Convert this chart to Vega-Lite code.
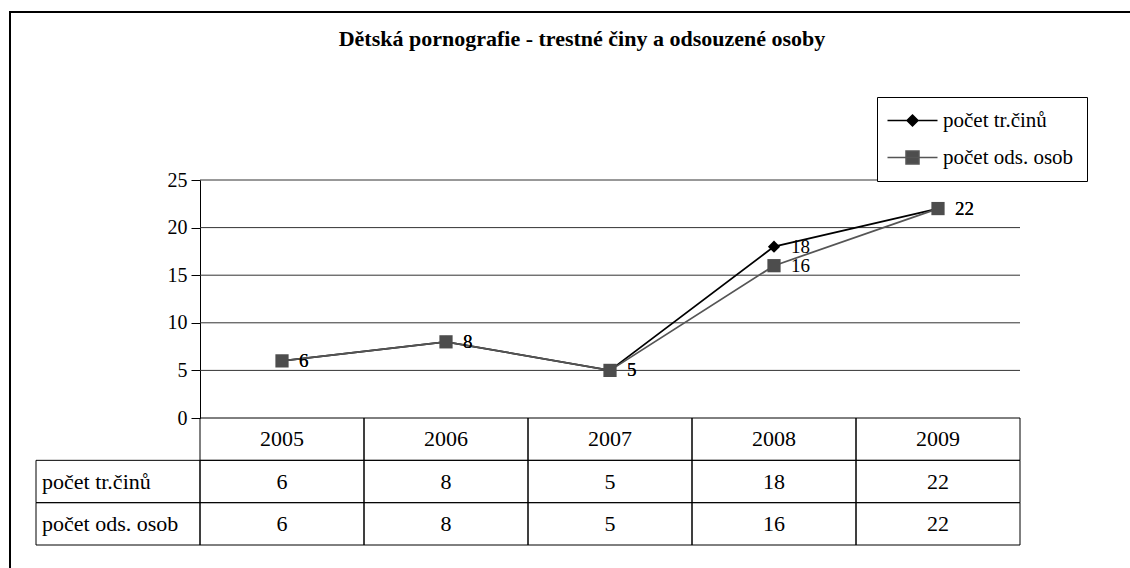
{
  "$schema": "https://vega.github.io/schema/vega-lite/v6.json",
  "width": 1120,
  "height": 556,
  "autosize": {"type": "none"},
  "padding": {"left": 10, "top": 12, "right": 0, "bottom": 0},
  "background": "white",
  "config": {
    "view": {"stroke": "black", "strokeWidth": 2, "strokeDash": [1120, 1676, 556, 4]},
    "font": "Liberation Serif"
  },
  "title": {
    "text": "Dětská pornografie - trestné činy a odsouzené osoby",
    "font": "Liberation Serif",
    "fontSize": 22,
    "fontWeight": "bold",
    "color": "black",
    "anchor": "middle",
    "baseline": "middle",
    "offset": -49,
    "dx": 12
  },
  "data": {
    "values": [
      {"year": "2005", "series": "počet tr.činů", "value": 6},
      {"year": "2006", "series": "počet tr.činů", "value": 8},
      {"year": "2007", "series": "počet tr.činů", "value": 5},
      {"year": "2008", "series": "počet tr.činů", "value": 18},
      {"year": "2009", "series": "počet tr.činů", "value": 22},
      {"year": "2005", "series": "počet ods. osob", "value": 6},
      {"year": "2006", "series": "počet ods. osob", "value": 8},
      {"year": "2007", "series": "počet ods. osob", "value": 5},
      {"year": "2008", "series": "počet ods. osob", "value": 16},
      {"year": "2009", "series": "počet ods. osob", "value": 22}
    ]
  },
  "resolve": {"scale": {"y": "independent"}},
  "layer": [
    {
      "layer": [
        {
          "data": {"values": [{"level": 5}, {"level": 10}, {"level": 15}, {"level": 20}, {"level": 25}]},
          "mark": {"type": "rule", "color": "#333333", "strokeWidth": 1},
          "encoding": {
            "x": {"datum": "2005", "type": "ordinal", "bandPosition": 0, "scale": {"type": "band", "domain": ["lbl", "2005", "2006", "2007", "2008", "2009"], "range": [26, 1010], "paddingInner": 0, "paddingOuter": 0}, "axis": null},
            "x2": {"datum": "2009", "bandPosition": 1},
            "y": {
              "field": "level", "type": "quantitative",
              "scale": {"domain": [0, 25], "range": [406, 168], "nice": false, "zero": false},
              "axis": {
                "values": [0, 5, 10, 15, 20, 25], "offset": -190, "title": null,
                "domain": true, "domainColor": "black", "domainWidth": 1,
                "ticks": true, "tickSize": 9, "tickColor": "black", "grid": false,
                "labelFont": "Liberation Serif", "labelFontSize": 20, "labelColor": "black", "labelPadding": 4
              }
            }
          }
        },
        {
          "mark": {"type": "line", "strokeWidth": 1.75},
          "encoding": {
            "x": {"field": "year", "type": "ordinal", "scale": {"type": "band", "domain": ["lbl", "2005", "2006", "2007", "2008", "2009"], "range": [26, 1010], "paddingInner": 0, "paddingOuter": 0}, "axis": null},
            "y": {"field": "value", "type": "quantitative", "scale": {"domain": [0, 25], "range": [406, 168], "nice": false, "zero": false}},
            "color": {
              "field": "series", "type": "nominal",
              "scale": {"domain": ["počet tr.činů", "počet ods. osob"], "range": ["#000000", "#555555"]},
              "legend": {
                "title": null, "orient": "none", "legendX": 867, "legendY": 85,
                "strokeColor": "black", "fillColor": "white", "padding": 13,
                "labelFont": "Liberation Serif", "labelFontSize": 21, "labelColor": "black",
                "rowPadding": 15, "symbolSize": 100, "symbolOffset": 12, "labelOffset": 20,
                "symbolStrokeWidth": 1.5
              }
            }
          }
        },
        {
          "transform": [{"filter": "false"}],
          "mark": {"type": "point", "filled": false, "strokeWidth": 1.5, "opacity": 1},
          "encoding": {
            "x": {"field": "year", "type": "ordinal", "scale": {"type": "band", "domain": ["lbl", "2005", "2006", "2007", "2008", "2009"], "range": [26, 1010], "paddingInner": 0, "paddingOuter": 0}, "axis": null},
            "y": {"field": "value", "type": "quantitative", "scale": {"domain": [0, 25], "range": [406, 168], "nice": false, "zero": false}},
            "color": {"field": "series", "type": "nominal", "scale": {"domain": ["počet tr.činů", "počet ods. osob"], "range": ["#000000", "#555555"]}},
            "fill": {"field": "series", "type": "nominal", "scale": {"domain": ["počet tr.činů", "počet ods. osob"], "range": ["#000000", "#4d4d4d"]}, "legend": {"title": null}},
            "shape": {"field": "series", "type": "nominal", "scale": {"domain": ["počet tr.činů", "počet ods. osob"], "range": ["M-5,0L5,0M0,-1.1L1.1,0L0,1.1L-1.1,0Z", "M-5,0L5,0M-1.3,-1.3L1.3,-1.3L1.3,1.3L-1.3,1.3Z"]}, "legend": {"title": null}}
          }
        },
        {
          "transform": [{"filter": {"field": "series", "equal": "počet tr.činů"}}],
          "mark": {"type": "point", "shape": "diamond", "filled": true, "size": 150, "opacity": 1, "color": "#000000"},
          "encoding": {
            "x": {"field": "year", "type": "ordinal", "scale": {"type": "band", "domain": ["lbl", "2005", "2006", "2007", "2008", "2009"], "range": [26, 1010], "paddingInner": 0, "paddingOuter": 0}, "axis": null},
            "y": {"field": "value", "type": "quantitative", "scale": {"domain": [0, 25], "range": [406, 168], "nice": false, "zero": false}}
          }
        },
        {
          "transform": [{"filter": {"field": "series", "equal": "počet ods. osob"}}],
          "mark": {"type": "point", "shape": "square", "filled": true, "size": 175, "opacity": 1, "color": "#4d4d4d"},
          "encoding": {
            "x": {"field": "year", "type": "ordinal", "scale": {"type": "band", "domain": ["lbl", "2005", "2006", "2007", "2008", "2009"], "range": [26, 1010], "paddingInner": 0, "paddingOuter": 0}, "axis": null},
            "y": {"field": "value", "type": "quantitative", "scale": {"domain": [0, 25], "range": [406, 168], "nice": false, "zero": false}}
          }
        },
        {
          "mark": {"type": "text", "align": "left", "baseline": "middle", "dx": 17, "font": "Liberation Serif", "fontSize": 19, "color": "black"},
          "encoding": {
            "x": {"field": "year", "type": "ordinal", "scale": {"type": "band", "domain": ["lbl", "2005", "2006", "2007", "2008", "2009"], "range": [26, 1010], "paddingInner": 0, "paddingOuter": 0}, "axis": null},
            "y": {"field": "value", "type": "quantitative", "scale": {"domain": [0, 25], "range": [406, 168], "nice": false, "zero": false}},
            "text": {"field": "value", "type": "quantitative"}
          }
        }
      ]
    },
    {
      "layer": [
        {
          "transform": [{"filter": {"field": "series", "equal": "počet tr.činů"}}],
          "mark": {"type": "rect", "fillOpacity": 0, "stroke": "black", "strokeWidth": 1},
          "encoding": {
            "x": {"field": "year", "type": "ordinal", "scale": {"type": "band", "domain": ["lbl", "2005", "2006", "2007", "2008", "2009"], "range": [26, 1010], "paddingInner": 0, "paddingOuter": 0}, "axis": null},
            "y": {"datum": "header", "type": "ordinal", "scale": {"type": "band", "domain": ["header", "počet tr.činů", "počet ods. osob"], "range": [406, 533], "paddingInner": 0, "paddingOuter": 0}, "axis": null}
          }
        },
        {
          "mark": {"type": "rect", "fillOpacity": 0, "stroke": "black", "strokeWidth": 1},
          "encoding": {
            "x": {"field": "year", "type": "ordinal", "scale": {"type": "band", "domain": ["lbl", "2005", "2006", "2007", "2008", "2009"], "range": [26, 1010], "paddingInner": 0, "paddingOuter": 0}, "axis": null},
            "y": {"field": "series", "type": "ordinal", "scale": {"type": "band", "domain": ["header", "počet tr.činů", "počet ods. osob"], "range": [406, 533], "paddingInner": 0, "paddingOuter": 0}, "axis": null}
          }
        },
        {
          "transform": [{"filter": {"field": "year", "equal": "2005"}}],
          "mark": {"type": "rect", "fillOpacity": 0, "stroke": "black", "strokeWidth": 1},
          "encoding": {
            "x": {"datum": "lbl", "type": "ordinal", "scale": {"type": "band", "domain": ["lbl", "2005", "2006", "2007", "2008", "2009"], "range": [26, 1010], "paddingInner": 0, "paddingOuter": 0}, "axis": null},
            "y": {"field": "series", "type": "ordinal", "scale": {"type": "band", "domain": ["header", "počet tr.činů", "počet ods. osob"], "range": [406, 533], "paddingInner": 0, "paddingOuter": 0}, "axis": null}
          }
        },
        {
          "transform": [{"filter": {"field": "series", "equal": "počet tr.činů"}}],
          "mark": {"type": "text", "align": "center", "baseline": "middle", "font": "Liberation Serif", "fontSize": 22, "color": "black"},
          "encoding": {
            "x": {"field": "year", "type": "ordinal", "scale": {"type": "band", "domain": ["lbl", "2005", "2006", "2007", "2008", "2009"], "range": [26, 1010], "paddingInner": 0, "paddingOuter": 0}, "axis": null},
            "y": {"datum": "header", "type": "ordinal", "scale": {"type": "band", "domain": ["header", "počet tr.činů", "počet ods. osob"], "range": [406, 533], "paddingInner": 0, "paddingOuter": 0}, "axis": null},
            "text": {"field": "year", "type": "nominal"}
          }
        },
        {
          "mark": {"type": "text", "align": "center", "baseline": "middle", "font": "Liberation Serif", "fontSize": 22, "color": "black"},
          "encoding": {
            "x": {"field": "year", "type": "ordinal", "scale": {"type": "band", "domain": ["lbl", "2005", "2006", "2007", "2008", "2009"], "range": [26, 1010], "paddingInner": 0, "paddingOuter": 0}, "axis": null},
            "y": {"field": "series", "type": "ordinal", "scale": {"type": "band", "domain": ["header", "počet tr.činů", "počet ods. osob"], "range": [406, 533], "paddingInner": 0, "paddingOuter": 0}, "axis": null},
            "text": {"field": "value", "type": "quantitative"}
          }
        },
        {
          "transform": [{"filter": {"field": "year", "equal": "2005"}}],
          "mark": {"type": "text", "align": "left", "baseline": "middle", "dx": 6, "font": "Liberation Serif", "fontSize": 22, "color": "black"},
          "encoding": {
            "x": {"datum": "lbl", "type": "ordinal", "bandPosition": 0, "scale": {"type": "band", "domain": ["lbl", "2005", "2006", "2007", "2008", "2009"], "range": [26, 1010], "paddingInner": 0, "paddingOuter": 0}, "axis": null},
            "y": {"field": "series", "type": "ordinal", "scale": {"type": "band", "domain": ["header", "počet tr.činů", "počet ods. osob"], "range": [406, 533], "paddingInner": 0, "paddingOuter": 0}, "axis": null},
            "text": {"field": "series", "type": "nominal"}
          }
        }
      ]
    }
  ]
}
